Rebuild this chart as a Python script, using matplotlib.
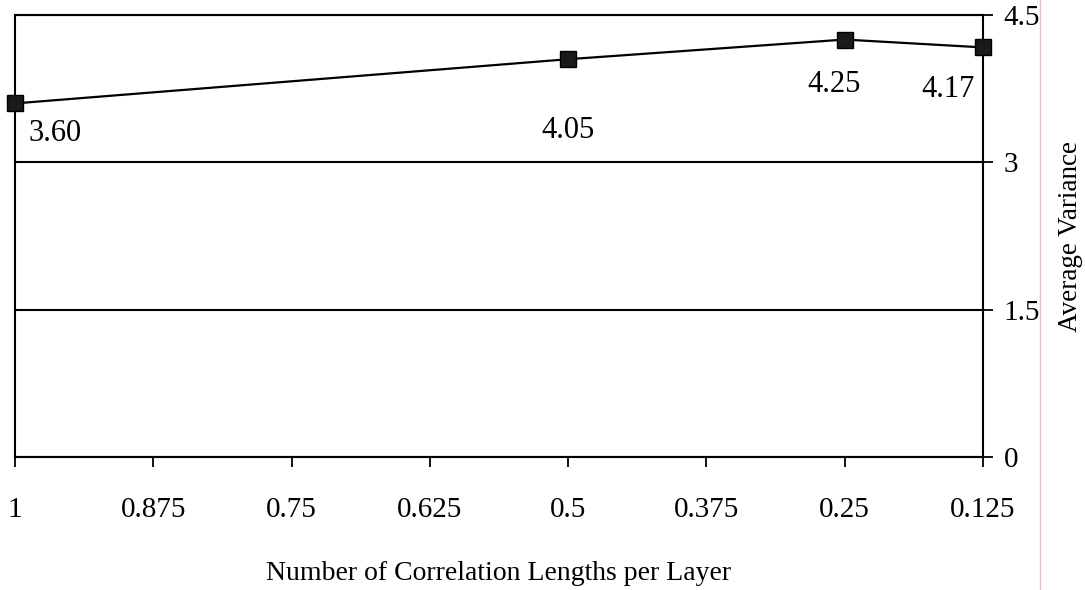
#!/usr/bin/env python3
"""Average variance versus number of correlation lengths per layer."""

import matplotlib
matplotlib.use("Agg")
import matplotlib.pyplot as plt
from matplotlib.lines import Line2D

# data
corr_lengths = [1, 0.5, 0.25, 0.125]
avg_variance = [3.60, 4.05, 4.25, 4.17]
x_ticks = [1, 0.875, 0.75, 0.625, 0.5, 0.375, 0.25, 0.125]
x_tick_labels = ["1", "0.875", "0.75", "0.625", "0.5", "0.375", "0.25", "0.125"]
y_ticks = [0, 1.5, 3, 4.5]
y_tick_labels = ["0", "1.5", "3", "4.5"]

plt.rcParams["font.family"] = ["Liberation Serif", "DejaVu Serif"]
plt.rcParams["font.size"] = 21

fig = plt.figure(figsize=(10.85, 5.90), dpi=100)
ax = fig.add_axes([15 / 1085, 1 - 457 / 590, (983 - 15) / 1085, (457 - 15) / 590])

ax.plot(corr_lengths, avg_variance, color="black", linewidth=1.6,
        marker="s", markersize=12, markerfacecolor="#1a1a1a",
        markeredgecolor="black", clip_on=False, zorder=5)

# value labels, offsets in points from each marker
label_offsets = [(10, -22), (0, -51), (-8, -32), (-25, -30)]
label_align = ["left", "center", "center", "center"]
for x, y, off, ha in zip(corr_lengths, avg_variance, label_offsets, label_align):
    ax.annotate(f"{y:.2f}", (x, y), xytext=off, textcoords="offset points",
                ha=ha, va="center", fontsize=22)

ax.set_xlim(1, 0.125)
ax.set_ylim(0, 4.5)
ax.set_xticks(x_ticks)
ax.set_xticklabels(x_tick_labels)
ax.set_yticks(y_ticks)
ax.set_yticklabels(y_tick_labels)

ax.yaxis.tick_right()
ax.yaxis.set_label_position("right")
ax.tick_params(axis="both", direction="out", length=7, width=1.3,
               colors="black", labelsize=21)
ax.tick_params(axis="x", pad=22)
ax.tick_params(axis="y", pad=8)

ax.grid(axis="y", color="black", linewidth=1.5)
ax.set_axisbelow(True)
for spine in ax.spines.values():
    spine.set_linewidth(1.5)
    spine.set_color("black")

ax.set_xlabel("Number of Correlation Lengths per Layer", fontsize=20, labelpad=27)
ax.set_ylabel("Average Variance", fontsize=19.5, labelpad=13)

# faint page edge line
fig.add_artist(Line2D([1040 / 1085, 1040 / 1085], [0, 1], color="#f0b8e0",
                      linewidth=1, transform=fig.transFigure))

fig.savefig("out.png", dpi=100, facecolor="white")
